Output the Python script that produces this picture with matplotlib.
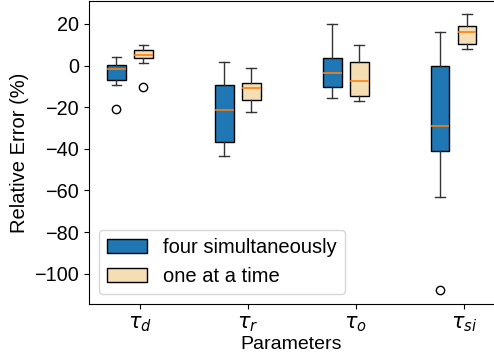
import matplotlib
matplotlib.use("Agg")
import matplotlib.pyplot as plt
import numpy as np

plt.rcParams['font.family'] = ['Liberation Sans', 'DejaVu Sans']
plt.rcParams['mathtext.fontset'] = 'dejavusans'

params = [r'$\tau_d$', r'$\tau_r$', r'$\tau_o$', r'$\tau_{si}$']

# four simultaneously: whislo, q1, med, q3, whishi, outliers
four_lo = [-9.3, -43.4, -15.5, -63.0]
four_q1 = [-6.9, -36.8, -10.1, -40.9]
four_med = [-1.7, -21.3, -3.4, -29.0]
four_q3 = [0.2, -9.3, 3.7, -0.1]
four_hi = [4.2, 1.6, 20.0, 16.1]
four_fl = [[-20.7], [], [], [-108.0]]

# one at a time
one_lo = [1.2, -22.4, -17.1, 8.2]
one_q1 = [3.7, -16.3, -14.7, 10.6]
one_med = [5.3, -10.9, -7.5, 16.3]
one_q3 = [7.7, -8.5, 1.9, 18.8]
one_hi = [9.8, -1.3, 10.1, 24.6]
one_fl = [[-10.1], [], [], []]


def stats(lo, q1, med, q3, hi, fl):
    return [dict(whislo=a, q1=b, med=c, q3=d, whishi=e, fliers=f)
            for a, b, c, d, e, f in zip(lo, q1, med, q3, hi, fl)]


fig = plt.figure(figsize=(4.94, 3.62), dpi=100)
ax = fig.add_axes([0.1796, 0.1594, 0.8204, 0.8376])

x = np.arange(1, len(params) + 1)
w = 0.175
common = dict(widths=w, patch_artist=True, manage_ticks=False,
              medianprops=dict(color='#ff7f0e', linewidth=1.2),
              whiskerprops=dict(color='#333333'),
              capprops=dict(color='#333333'),
              flierprops=dict(marker='o', markerfacecolor='none',
                              markeredgecolor='black', markersize=6))

b1 = ax.bxp(stats(four_lo, four_q1, four_med, four_q3, four_hi, four_fl),
            positions=x - 0.22,
            boxprops=dict(facecolor='#1f77b4', edgecolor='black'), **common)
b2 = ax.bxp(stats(one_lo, one_q1, one_med, one_q3, one_hi, one_fl),
            positions=x + 0.03,
            boxprops=dict(facecolor='wheat', edgecolor='black'), **common)

ax.set_xticks(x)
ax.set_xticklabels(params, fontsize=15)
ax.set_xlim(0.525, 4.28)
ax.set_ylim(-114.7, 31.0)
ax.set_yticks([20, 0, -20, -40, -60, -80, -100])
ax.tick_params(axis='y', labelsize=14.3)
ax.set_xlabel('Parameters', fontsize=14, labelpad=2)
ax.set_ylabel('Relative Error (%)', fontsize=14.5)
ax.spines['right'].set_visible(False)

ax.legend([b1['boxes'][0], b2['boxes'][0]],
          ['four simultaneously', 'one at a time'],
          loc='lower left', fontsize=14.5)

fig.savefig('out.png', dpi=100)
